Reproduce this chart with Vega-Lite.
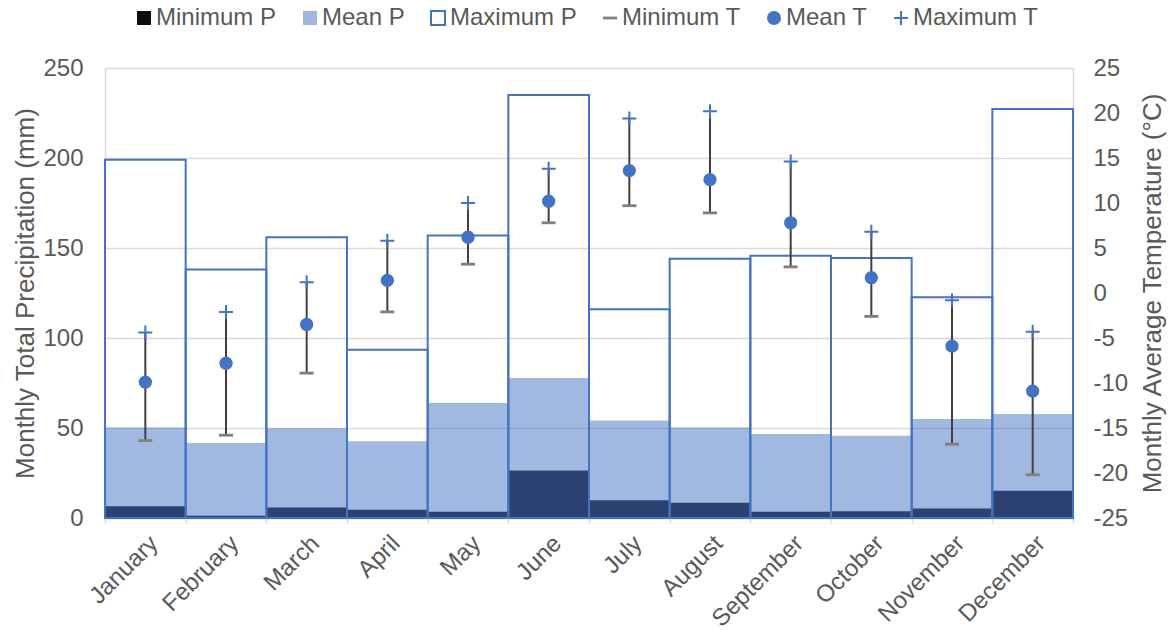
{
  "$schema": "https://vega.github.io/schema/vega-lite/v6.json",
  "width": 968,
  "height": 450,
  "autosize": {"type": "none"},
  "padding": {"left": 105, "top": 68, "right": 99, "bottom": 113},
  "background": "white",
  "config": {
    "view": {"stroke": null},
    "font": "Liberation Sans",
    "axis": {"labelFont": "Liberation Sans", "titleFont": "Liberation Sans", "labelColor": "#595959", "titleColor": "#595959", "titleFontWeight": "normal"}
  },
  "data": {
    "values": [
      {"month": "January", "minP": 6.5, "meanP": 50.3, "maxP": 199, "minT": -16.4, "meanT": -9.9, "maxT": -4.4},
      {"month": "February", "minP": 1.3, "meanP": 41.7, "maxP": 138, "minT": -15.8, "meanT": -7.8, "maxT": -2.1},
      {"month": "March", "minP": 5.9, "meanP": 49.8, "maxP": 156, "minT": -8.9, "meanT": -3.5, "maxT": 1.2},
      {"month": "April", "minP": 4.6, "meanP": 42.6, "maxP": 93.5, "minT": -2.1, "meanT": 1.4, "maxT": 5.8},
      {"month": "May", "minP": 3.5, "meanP": 63.9, "maxP": 157, "minT": 3.2, "meanT": 6.2, "maxT": 10.0},
      {"month": "June", "minP": 26.4, "meanP": 77.8, "maxP": 235, "minT": 7.8, "meanT": 10.2, "maxT": 13.8},
      {"month": "July", "minP": 9.8, "meanP": 54.2, "maxP": 116, "minT": 9.7, "meanT": 13.6, "maxT": 19.4},
      {"month": "August", "minP": 8.5, "meanP": 50.3, "maxP": 144, "minT": 8.9, "meanT": 12.6, "maxT": 20.2},
      {"month": "September", "minP": 3.5, "meanP": 46.7, "maxP": 145.7, "minT": 2.9, "meanT": 7.8, "maxT": 14.6},
      {"month": "October", "minP": 3.7, "meanP": 45.7, "maxP": 144.4, "minT": -2.6, "meanT": 1.7, "maxT": 6.8},
      {"month": "November", "minP": 5.3, "meanP": 55.0, "maxP": 122.6, "minT": -16.8, "meanT": -5.9, "maxT": -0.8},
      {"month": "December", "minP": 15.2, "meanP": 57.8, "maxP": 227.2, "minT": -20.2, "meanT": -10.9, "maxT": -4.3}
    ]
  },
  "layer": [
    {
      "layer": [
        {
          "mark": {"type": "bar", "fill": "#4472c4", "fillOpacity": 0.5, "strokeWidth": 0, "width": {"band": 1}},
          "encoding": {
            "x": {
              "field": "month", "type": "nominal", "sort": null,
              "scale": {"paddingInner": 0, "paddingOuter": 0},
              "axis": {"title": null, "labelAngle": -45, "labelFontSize": 24, "labelPadding": 8, "domainColor": "#d9d9d9", "domainWidth": 1.5, "tickColor": "#d9d9d9", "tickWidth": 1.5, "tickSize": 5, "tickBand": "extent", "grid": false}
            },
            "y": {
              "field": "meanP", "type": "quantitative", "stack": null,
              "scale": {"domain": [0, 250], "nice": false},
              "title": "Monthly Total Precipitation (mm)",
              "axis": {"orient": "left", "values": [0, 50, 100, 150, 200, 250], "titleFontSize": 26, "labelFontSize": 24, "labelPadding": 22, "titlePadding": 4, "ticks": false, "domainColor": "#d9d9d9", "domainWidth": 1.5, "grid": true, "gridColor": "#d9d9d9", "gridWidth": 1.5}
            }
          }
        },
        {
          "mark": {"type": "bar", "color": "#2c4272", "strokeWidth": 0, "width": {"band": 1}},
          "encoding": {
            "x": {"field": "month", "type": "nominal", "sort": null},
            "y": {"field": "minP", "type": "quantitative", "stack": null, "title": "Monthly Total Precipitation (mm)"}
          }
        },
        {
          "mark": {"type": "bar", "fill": "transparent", "stroke": "#4472c4", "strokeWidth": 2, "width": {"band": 1}},
          "encoding": {
            "x": {"field": "month", "type": "nominal", "sort": null},
            "y": {"field": "maxP", "type": "quantitative", "stack": null, "title": "Monthly Total Precipitation (mm)"}
          }
        }
      ]
    },
    {
      "layer": [
        {
          "mark": {"type": "rule", "color": "#404040", "strokeWidth": 2},
          "encoding": {
            "x": {"field": "month", "type": "nominal", "sort": null},
            "y": {
              "field": "minT", "type": "quantitative",
              "scale": {"domain": [-25, 25], "nice": false},
              "title": "Monthly Average Temperature (°C)",
              "axis": {"orient": "right", "values": [-25, -20, -15, -10, -5, 0, 5, 10, 15, 20, 25], "labelExpr": "'' + datum.value", "titleFontSize": 26, "labelFontSize": 24, "labelPadding": 20, "titlePadding": 12, "titleAngle": 270, "titleBaseline": "top", "ticks": false, "grid": false, "domainColor": "#d9d9d9", "domainWidth": 1.5}
            },
            "y2": {"field": "maxT"}
          }
        },
        {
          "mark": {"type": "point", "shape": "M-1,-0.2H1V0.2H-1Z", "filled": true, "fill": "#7f7f7f", "strokeWidth": 0, "size": 196, "opacity": 1},
          "encoding": {
            "x": {"field": "month", "type": "nominal", "sort": null},
            "y": {"field": "minT", "type": "quantitative", "title": "Monthly Average Temperature (°C)"}
          }
        },
        {
          "mark": {"type": "point", "shape": "M-1,0H1M0,-1V1", "filled": false, "stroke": "#4472c4", "strokeWidth": 2, "size": 196, "opacity": 1},
          "encoding": {
            "x": {"field": "month", "type": "nominal", "sort": null},
            "y": {"field": "maxT", "type": "quantitative", "title": "Monthly Average Temperature (°C)"}
          }
        },
        {
          "mark": {"type": "point", "filled": true, "strokeWidth": 2, "size": 177, "opacity": 1},
          "encoding": {
            "x": {"field": "month", "type": "nominal", "sort": null},
            "y": {"field": "meanT", "type": "quantitative", "title": "Monthly Average Temperature (°C)"},
            "fill": {
              "datum": "Mean T", "type": "nominal",
              "scale": {
                "domain": ["Minimum P", "Mean P", "Maximum P", "Minimum T", "Mean T", "Maximum T"],
                "range": ["#0d0d0d", "#a0b6df", "transparent", "#7f7f7f", "#4472c4", "transparent"]
              },
              "legend": {
                "title": null, "orient": "none", "legendX": 27, "legendY": -62, "direction": "horizontal",
                "labelFont": "Liberation Sans", "labelFontSize": 24, "labelColor": "#595959", "labelOffset": 0,
                "symbolSize": 196, "columnPadding": 21, "symbolStrokeWidth": 2
              }
            },
            "shape": {
              "datum": "Mean T", "type": "nominal",
              "scale": {
                "domain": ["Minimum P", "Mean P", "Maximum P", "Minimum T", "Mean T", "Maximum T"],
                "range": ["square", "square", "square", "M-1,-0.2H1V0.2H-1Z", "circle", "M-1,0H1M0,-1V1"]
              },
              "legend": {"title": null}
            },
            "stroke": {
              "datum": "Mean T", "type": "nominal",
              "scale": {
                "domain": ["Minimum P", "Mean P", "Maximum P", "Minimum T", "Mean T", "Maximum T"],
                "range": ["transparent", "transparent", "#4472c4", "transparent", "transparent", "#4472c4"]
              },
              "legend": {"title": null}
            }
          }
        }
      ]
    }
  ],
  "resolve": {"scale": {"y": "independent"}}
}
